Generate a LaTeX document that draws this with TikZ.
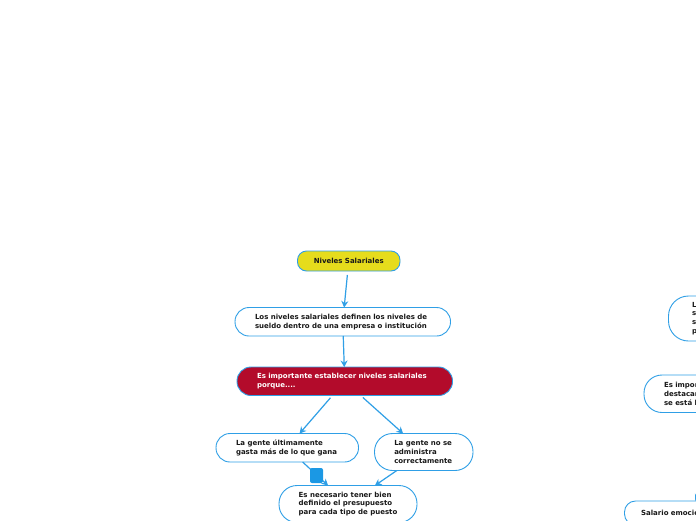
\documentclass[tikz,border=0pt]{standalone}
\usepackage{fontspec}
\usetikzlibrary{arrows.meta}
\setmainfont{DejaVu Sans}
\begin{document}
\begin{tikzpicture}[x=1pt,y=-1pt,
  every node/.style={font=\fontsize{7}{8.8}\selectfont\bfseries, align=left, outer sep=0pt, inner ysep=0pt},
  mapnode/.style={draw=linkblue, line width=0.9pt, fill=white, text=black!90},
  conn/.style={draw=linkblue, line width=1.2pt, -{Stealth[length=6.5pt,width=7pt]}},
]
\definecolor{linkblue}{HTML}{2F9FE6}
\definecolor{nodered}{HTML}{B30B2B}
\definecolor{nodeyellow}{HTML}{E6DC1C}
\definecolor{handleblue}{HTML}{1B98E4}
\useasboundingbox (0,0) rectangle (696,520);
\clip (0,0) rectangle (696,520);
\fill[white] (0,0) rectangle (696,520);
\node[mapnode, fill=nodeyellow, rounded corners=9pt, minimum width=102.5pt, minimum height=20pt, text width=70pt, inner xsep=16.25pt] (root) at (348.75,261) {Niveles Salariales};
\node[mapnode, rounded corners=14pt, minimum width=215.5pt, minimum height=28.5pt, text width=175.5pt, inner xsep=20pt] (def) at (342.75,321.75) {Los niveles salariales definen los niveles de\\sueldo dentro de una empresa o institución};
\node[mapnode, fill=nodered, text=white, rounded corners=14pt, minimum width=215.5pt, minimum height=28.5pt, text width=175.5pt, inner xsep=20pt] (why) at (344.75,381.25) {Es importante establecer niveles salariales\\porque....};
\node[mapnode, rounded corners=14pt, minimum width=142.5pt, minimum height=28.5pt, text width=102.5pt, inner xsep=20pt] (spend) at (287.25,447.75) {La gente últimamente\\gasta más de lo que gana};
\node[mapnode, rounded corners=18pt, minimum width=98.5pt, minimum height=37pt, text width=59pt, inner xsep=19.75pt] (admin) at (423.75,452) {La gente no se\\administra\\correctamente};
\node[mapnode, rounded corners=18pt, minimum width=138pt, minimum height=37pt, inner xsep=0pt] (budget) at (348,504) {Es necesario tener bien\\definido el presupuesto\\para cada tipo de puesto};
\node[mapnode, rounded corners=20pt, minimum width=100pt, minimum height=45pt, text width=53pt, inner xsep=23.5pt] (rightA) at (718.5,318.5) {L\\s\\s\\p};
\node[mapnode, rounded corners=18pt, minimum width=120pt, minimum height=37.5pt, text width=80pt, inner xsep=20pt] (rightB) at (704,393.75) {Es impor\\destacar\\se está l};
\node[mapnode, rounded corners=11pt, minimum width=130pt, minimum height=24pt, text width=97pt, inner xsep=16.5pt] (rightC) at (689.5,513) {Salario emocio};
\coordinate (offpage) at (720,450);
\draw[conn, shorten <=4pt] (root) -- (def);
\draw[conn] (def) -- (why);
\draw[conn, shorten <=3pt] (why) -- (spend);
\draw[conn, shorten <=3pt] (why) -- (admin);
\draw[conn] (spend) -- (budget);
\draw[conn] (admin) -- (budget);
\draw[conn] (offpage) -- (rightC);
\fill[handleblue, rounded corners=2pt] (310,468) rectangle (323,483);
\end{tikzpicture}
\end{document}
